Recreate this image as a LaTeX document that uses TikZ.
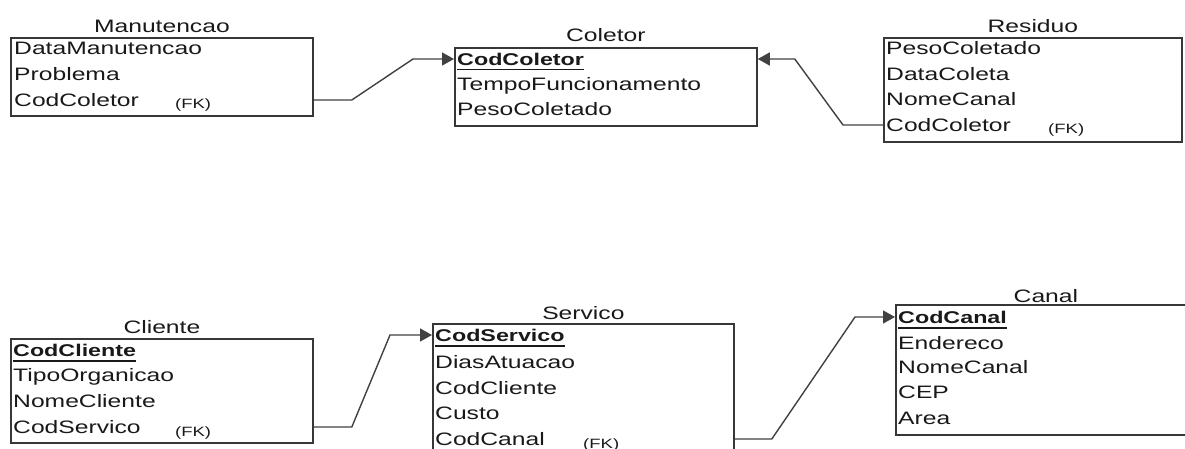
\documentclass[tikz,border=0pt]{standalone}
\usepackage{fontspec}
\setmainfont[FakeStretch=1.37]{Liberation Sans}
\usetikzlibrary{arrows.meta,calc,positioning}
\definecolor{tabgray}{RGB}{55,55,55}
\definecolor{linegray}{RGB}{65,65,65}
\definecolor{txtgray}{RGB}{25,25,25}

\tikzset{
	table/.style={draw=tabgray, line width=1.8pt, anchor=north west, inner sep=0pt},
	title/.style={anchor=base, inner sep=0pt, text=txtgray, font=\fontsize{18}{20}\selectfont},
	attr/.style={anchor=west, inner sep=0pt, text height=13pt, text depth=0pt, text=txtgray, font=\fontsize{18}{20}\selectfont},
	pk/.style={attr, font=\fontsize{17}{20}\selectfont\bfseries},
	fk/.style={anchor=west, inner sep=0pt, text height=9pt, text depth=0pt, text=txtgray, font=\fontsize{13.5}{15}\selectfont},
	keyline/.style={draw=txtgray, line width=1.6pt},
	rel/.style={draw=linegray, line width=1.4pt, -{Triangle[length=12pt,width=13pt]}},
}

\begin{document}
\begin{tikzpicture}[x=1pt, y=1pt]
	\useasboundingbox (0,0) rectangle (1185,-449);
	\fill[white] (0,0) rectangle (1185,-449);
	\clip (0,0) rectangle (1185,-449);

	% tables
	\node[table, minimum width=302pt, minimum height=78pt] (man) at (10,-37) {};
	\node[table, minimum width=302pt, minimum height=78pt] (col) at (454,-47) {};
	\node[table, minimum width=298pt, minimum height=104pt] (res) at (883,-37) {};
	\node[table, minimum width=302pt, minimum height=104pt] (cli) at (10,-338) {};
	\node[table, minimum width=301pt, minimum height=140pt] (ser) at (432,-323) {};
	\node[table, minimum width=300pt, minimum height=130pt] (can) at (895,-304) {};

	\node[title] at ($(man.north)+(0,4)$) {Manutencao};
	\node[title] at ($(col.north)+(0,5)$) {Coletor};
	\node[title] at ($(res.north)+(0,4)$) {Residuo};
	\node[title] at ($(cli.north)+(0,5)$) {Cliente};
	\node[title] at ($(ser.north)+(0,4)$) {Servico};
	\node[title] at ($(can.north)+(0,2)$) {Canal};

	% Manutencao
	\node[attr] (man1) at (14,-48) {DataManutencao};
	\node[attr] (man2) at (14,-74) {Problema};
	\node[attr] (man3) at (14,-100) {CodColetor};
	\node[fk] at (175,-104.5) {(FK)};

	% Coletor
	\node[pk] (col1) at (457,-59) {CodColetor};
	\node[attr] (col2) at (457,-84) {TempoFuncionamento};
	\node[attr] (col3) at (457,-109) {PesoColetado};
	\draw[keyline] ([yshift=-4pt]col1.south west) -- ([yshift=-4pt]col1.south east);

	% Residuo
	\node[attr] (res1) at (886,-48) {PesoColetado};
	\node[attr] (res2) at (886,-74) {DataColeta};
	\node[attr] (res3) at (886,-99) {NomeCanal};
	\node[attr] (res4) at (886,-125) {CodColetor};
	\node[fk] at (1048,-129.5) {(FK)};

	% Cliente
	\node[pk] (cli1) at (13,-350) {CodCliente};
	\node[attr] (cli2) at (13,-375) {TipoOrganicao};
	\node[attr] (cli3) at (13,-401) {NomeCliente};
	\node[attr] (cli4) at (13,-427) {CodServico};
	\node[fk] at (175,-431.5) {(FK)};
	\draw[keyline] ([yshift=-4pt]cli1.south west) -- ([yshift=-4pt]cli1.south east);

	% Servico
	\node[pk] (ser1) at (435,-335) {CodServico};
	\node[attr] (ser2) at (435,-362) {DiasAtuacao};
	\node[attr] (ser3) at (435,-388) {CodCliente};
	\node[attr] (ser4) at (435,-413) {Custo};
	\node[attr] (ser5) at (435,-439) {CodCanal};
	\node[fk] at (583,-443.5) {(FK)};
	\draw[keyline] ([yshift=-4pt]ser1.south west) -- ([yshift=-4pt]ser1.south east);

	% Canal
	\node[pk] (can1) at (898,-317) {CodCanal};
	\node[attr] (can2) at (898,-343) {Endereco};
	\node[attr] (can3) at (898,-367) {NomeCanal};
	\node[attr] (can4) at (898,-392) {CEP};
	\node[attr] (can5) at (898,-418) {Area};
	\draw[keyline] ([yshift=-4pt]can1.south west) -- ([yshift=-4pt]can1.south east);

	% relationships
	\draw[rel] (man.east |- man3) -- ++(38,0) -- ($(col.west |- col1)+(-41,0)$) -- (col.west |- col1);
	\draw[rel] (res.west |- res4) -- ++(-40,0) -- ($(col.east |- col1)+(37,0)$) -- (col.east |- col1);
	\draw[rel] (cli.east |- cli4) -- ++(38,0) -- ($(ser.west |- ser1)+(-42,0)$) -- (ser.west |- ser1);
	\draw[rel] (ser.east |- ser5) -- ++(37,0) -- ($(can.west |- can1)+(-40,0)$) -- (can.west |- can1);
\end{tikzpicture}
\end{document}
